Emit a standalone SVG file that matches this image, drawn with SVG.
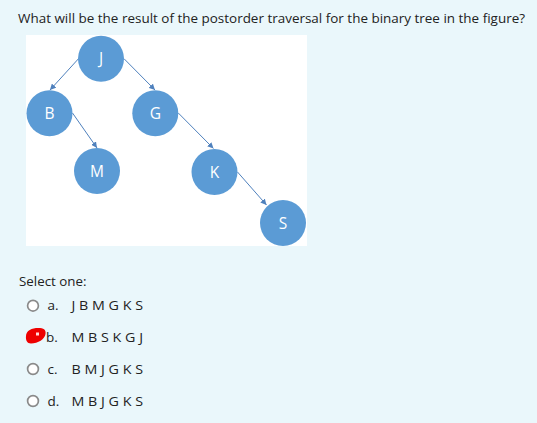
<svg xmlns="http://www.w3.org/2000/svg" width="537" height="423" viewBox="0 0 537 423">
<style>
.bg{fill:#eaf7fb}
.panel{fill:#ffffff}
.node circle{fill:#5b9bd5}
.node text{fill:#ffffff;font-family:"Open Sans","Liberation Sans",sans-serif;font-size:15.5px;text-anchor:middle}
.edge{stroke:#4f81bd;stroke-width:1;fill:none;marker-end:url(#arr)}
.q{font-family:"Open Sans","Liberation Sans",sans-serif;fill:#222;font-size:13.5px}
.radio{fill:#ffffff;stroke:#8a8a8a;stroke-width:1.7}
</style>
<defs>
<marker id="arr" viewBox="0 0 10 10" refX="10" refY="5" markerWidth="6" markerHeight="6" orient="auto" markerUnits="userSpaceOnUse">
<path d="M0,0 L10,5 L0,10 z" fill="#4f81bd"/>
</marker>
</defs>
<rect class="bg" x="0" y="0" width="537" height="423"/>
<text class="q" x="18" y="22.5" textLength="507" lengthAdjust="spacingAndGlyphs">What will be the result of the postorder traversal for the binary tree in the figure?</text>
<rect class="panel" x="26" y="35" width="281" height="211"/>
<g id="connectors">
<line class="edge" x1="78.5" y1="58.7" x2="50" y2="90"/>
<line class="edge" x1="124" y1="58.7" x2="155" y2="90"/>
<line class="edge" x1="72.5" y1="113" x2="97" y2="148"/>
<line class="edge" x1="178.3" y1="113" x2="213.5" y2="148.5"/>
<line class="edge" x1="237.5" y1="172" x2="266.5" y2="205"/>
</g>
<g id="node-J" class="node"><circle cx="101" cy="58.7" r="23"/><text x="101" y="64.3">J</text></g>
<g id="node-B" class="node"><circle cx="49.5" cy="113.3" r="23"/><text x="49.5" y="118.9">B</text></g>
<g id="node-G" class="node"><circle cx="155.3" cy="113.3" r="23"/><text x="155.3" y="118.9">G</text></g>
<g id="node-M" class="node"><circle cx="97" cy="171" r="23"/><text x="97" y="176.6">M</text></g>
<g id="node-K" class="node"><circle cx="214.5" cy="172" r="23"/><text x="214.5" y="177.6">K</text></g>
<g id="node-S" class="node"><circle cx="283" cy="223" r="23"/><text x="283" y="228.6">S</text></g>
<text class="q" x="19" y="286" textLength="67.5" lengthAdjust="spacingAndGlyphs">Select one:</text>
<circle class="radio" cx="33" cy="305.7" r="5.4"/>
<text class="q" x="47.5" y="310">a.</text>
<text class="q" x="71.5" y="310" textLength="71.5" lengthAdjust="spacingAndGlyphs">J B M G K S</text>
<path d="M26,336 C26,330 33,327.5 40,328 C45,328.5 46,331 45.5,334 C45,339 38,343.5 31,343.5 C27,343.5 25.5,340 26,336 z" fill="#ee0000"/>
<rect x="36" y="332.5" width="3" height="3" fill="#ffdddd"/>
<text class="q" x="46" y="341.5">b.</text>
<text class="q" x="71.5" y="341.5" textLength="71.5" lengthAdjust="spacingAndGlyphs">M B S K G J</text>
<circle class="radio" cx="33" cy="369" r="5.4"/>
<text class="q" x="47.5" y="373.5">c.</text>
<text class="q" x="71.5" y="373.5" textLength="71.5" lengthAdjust="spacingAndGlyphs">B M J G K S</text>
<circle class="radio" cx="33" cy="401" r="5.4"/>
<text class="q" x="47.5" y="405.5">d.</text>
<text class="q" x="71.5" y="405.5" textLength="71.5" lengthAdjust="spacingAndGlyphs">M B J G K S</text>
</svg>
